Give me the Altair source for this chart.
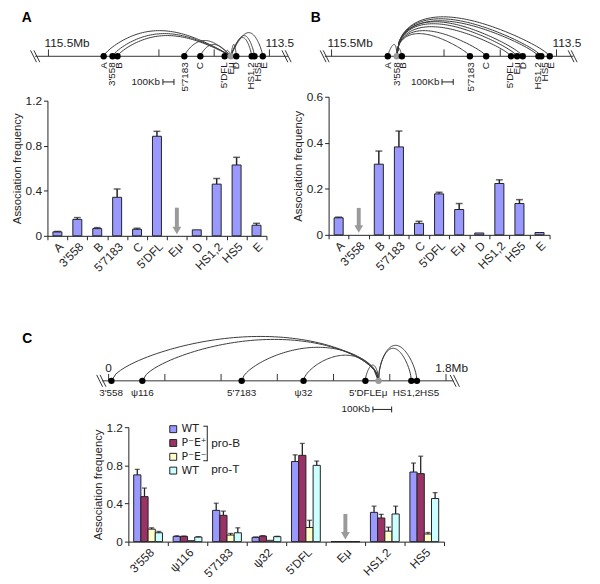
import altair as alt
import numpy as np
import pandas as pd

FONT = "Liberation Sans"
INK = "#222222"
LINE = "#333333"
GRAY = "#9a9a9a"

# ---------------- panels A and B: locus maps ----------------
ab_names = ["A", "3'558", "B", "5'7183", "C", "5'DFL", "Eμ", "D", "HS1,2", "HS5", "E"]
ab_mb = [115.0, 114.92, 114.875, 114.27, 114.125, 113.905, 113.85, 113.80, 113.66, 113.635, 113.56]
ab_label_mb = [115.0, 114.92, 114.862, 114.26, 114.125, 113.91, 113.85, 113.80, 113.665, 113.605, 113.55]
ab_tick_mb = [115.5, 114.5, 114.0, 113.5]
arcA_height = [26, 23, 21, 16, 12, 6, 0, 12, 19, 21, 24]   # contacts of Eμ
arcB_height = [12, 0, 9, 23, 26, 30, 33, 35, 36, 38, 40]   # contacts of 3'558

# ---------------- panels A and B: association frequencies ----------------
barA_val = [0.035, 0.146, 0.064, 0.342, 0.058, 0.884, None, 0.053, 0.459, 0.629, 0.094]
barA_err = [0.004, 0.016, 0.009, 0.074, 0.009, 0.044, None, 0.0, 0.05, 0.068, 0.017]
barB_val = [0.074, None, 0.307, 0.382, 0.050, 0.178, 0.110, 0.008, 0.223, 0.136, 0.010]
barB_err = [0.003, None, 0.057, 0.069, 0.009, 0.007, 0.026, 0.0, 0.016, 0.017, 0.0]

# ---------------- panel C: locus map ----------------
c_names = ["3'558", "ψ116", "5'7183", "ψ32", "5'DFL", "Eμ", "HS1,2", "HS5"]
c_mb = [0.015, 0.18, 0.71, 1.04, 1.37, 1.44, 1.615, 1.645]
c_label_text = ["3'558", "ψ116", "5'7183", "ψ32", "5'DFLEμ", "HS1,2HS5"]
c_label_mb = [0.013, 0.18, 0.71, 1.04, 1.385, 1.64]
c_tick_mb = [0, 0.3, 0.6, 0.9, 1.2, 1.5, 1.8]
arcC_height = [45, 42, 34, 26, 16, 0, 33, 36]

# ---------------- panel C: association frequencies ----------------
c_cats = ["3'558", "ψ116", "5'7183", "ψ32", "5'DFL", "Eμ", "HS1,2", "HS5"]
series = ["WT", "P⁻E⁺", "P⁻E⁻", "WT pro-T"]
series_colors = ["#9999ff", "#993366", "#ffffcc", "#ccffff"]
wt_val = [0.70, 0.055, 0.328, 0.045, 0.84, 0, 0.307, 0.73]
wt_err = [0.058, 0.006, 0.075, 0.004, 0.07, 0, 0.065, 0.094]
pep_val = [0.472, 0.055, 0.276, 0.058, 0.905, 0, 0.248, 0.713]
pep_err = [0.09, 0.004, 0.044, 0.005, 0.125, 0, 0.038, 0.183]
pem_val = [0.131, 0.01, 0.069, 0.014, 0.148, 0, 0.11, 0.08]
pem_err = [0.014, 0, 0.017, 0, 0.076, 0, 0.042, 0.016]
prot_val = [0.093, 0.048, 0.093, 0.052, 0.80, 0, 0.29, 0.452]
prot_err = [0.014, 0.004, 0.052, 0.004, 0.045, 0, 0.082, 0.062]

dummy = pd.DataFrame({"k": [0]})


def locus_map(names, mb, label_text, label_mb, view, arc_h, skew, power,
              xdom, xrng, yrng, tick_mb, tick_labels, line_ends, breaks, sb,
              vertical, label_y, label_size):
    k = (xrng[1] - xrng[0]) / (xdom[1] - xdom[0])
    xsc = alt.Scale(domain=xdom, range=xrng, nice=False, zero=False)
    ysc = alt.Scale(domain=[0, 45], range=yrng, nice=False, zero=False)

    def X(f):
        return alt.X(f, type="quantitative", scale=xsc, axis=None)

    def Y(f):
        return alt.Y(f, type="quantitative", scale=ysc, axis=None)

    layers = []
    base_df = pd.DataFrame({"x": [line_ends[0]], "x2": [line_ends[1]], "y": [0]})
    layers.append(alt.Chart(base_df).mark_rule(color=LINE, strokeWidth=1)
                  .encode(x=X("x"), x2="x2", y=Y("y")))
    tick_df = pd.DataFrame({"x": tick_mb, "y": 0, "y2": 7})
    layers.append(alt.Chart(tick_df).mark_rule(color=LINE, strokeWidth=1)
                  .encode(x=X("x"), y=Y("y"), y2="y2"))
    for tx, txt, dx in tick_labels:
        layers.append(alt.Chart(pd.DataFrame({"x": [tx], "y": [9], "t": [txt]}))
                      .mark_text(align="left", baseline="alphabetic", fontSize=12, dx=dx, color=INK)
                      .encode(x=X("x"), y=Y("y"), text="t:N"))
    br = pd.DataFrame({"x": [b - 3 / k for b in breaks], "x2": [b + 3 / k for b in breaks],
                       "y": 6, "y2": -6})
    layers.append(alt.Chart(br).mark_rule(color=LINE, strokeWidth=1)
                  .encode(x=X("x"), x2="x2", y=Y("y"), y2="y2"))
    rows = []
    for i, (p, h) in enumerate(zip(mb, arc_h)):
        if h <= 0 or i == view:
            continue
        s = np.linspace(0, 1, 60)
        u = s ** skew
        yy = h * np.clip(np.sin(np.pi * u), 0, None) ** power
        xx = mb[view] + (p - mb[view]) * s
        for j in range(len(s)):
            rows.append({"arc": i, "o": j, "x": xx[j], "y": yy[j]})
    layers.append(alt.Chart(pd.DataFrame(rows)).mark_line(color="#3a3a3a", strokeWidth=1)
                  .encode(x=X("x"), y=Y("y"), detail="arc:N", order="o:Q"))
    dots = pd.DataFrame({"x": mb, "y": 0, "view": [i == view for i in range(len(mb))]})
    layers.append(alt.Chart(dots).mark_circle(size=42, opacity=1)
                  .encode(x=X("x"), y=Y("y"),
                          color=alt.condition("datum.view", alt.value(GRAY), alt.value("black"))))
    lab = pd.DataFrame({"x": label_mb, "y": label_y, "t": label_text})
    if vertical:
        lm = alt.Chart(lab).mark_text(angle=270, align="right", baseline="middle",
                                      fontSize=label_size, color=INK)
    else:
        lm = alt.Chart(lab).mark_text(align="center", baseline="middle",
                                      fontSize=label_size, color=INK)
    layers.append(lm.encode(x=X("x"), y=Y("y"), text="t:N"))
    x0, x1, yb, xt = sb
    layers.append(alt.Chart(pd.DataFrame({"x": [x0], "x2": [x1], "y": [yb]}))
                  .mark_rule(color=INK, strokeWidth=1).encode(x=X("x"), x2="x2", y=Y("y")))
    layers.append(alt.Chart(pd.DataFrame({"x": [x0, x1], "y": yb - 3, "y2": yb + 3}))
                  .mark_rule(color=INK, strokeWidth=1).encode(x=X("x"), y=Y("y"), y2="y2"))
    layers.append(alt.Chart(pd.DataFrame({"x": [xt], "y": [yb], "t": ["100Kb"]}))
                  .mark_text(align="right", baseline="middle", fontSize=10, color=INK)
                  .encode(x=X("x"), y=Y("y"), text="t:N"))
    return alt.layer(*layers)


def y_axis(offset, values):
    return alt.Axis(orient="left", offset=offset, values=values, format="~g",
                    title="Association frequency", grid=False, tickSize=4, tickColor=INK,
                    domainColor=INK, labelColor=INK, titleColor=INK, labelFontSize=12,
                    titleFontSize=11.5, titleFontWeight="normal", labelPadding=2,
                    titlePadding=3, labelOverlap=False, labelFont=FONT, titleFont=FONT)


def x_axis(offset):
    return alt.Axis(orient="bottom", offset=offset, title=None, labelAngle=-45,
                    labelAlign="right", labelBaseline="top", tickBand="extent", tickSize=4,
                    tickColor=INK, domainColor=INK, labelColor=INK, labelFontSize=12,
                    labelPadding=1, labelOverlap=False, labelFont=FONT, grid=False)


def arrow_layers(df, X, Y):
    shaft = alt.Chart(df).mark_rule(color=GRAY, strokeWidth=4, y2Offset=-6).encode(
        x=X, y=Y("top"), y2="tip:Q")
    head = alt.Chart(df).mark_point(shape="triangle-down", filled=True, size=80,
                                    color=GRAY, opacity=1, yOffset=-4).encode(x=X, y=Y("tip"))
    return [shaft, head]


def bar_panel(cats, vals, errs, arrow, xrng, ydom, yrng, yvals, yoff, xoff):
    df = pd.DataFrame({"cat": cats, "val": vals, "err": errs})
    df["top"] = df["val"] + df["err"]
    xsc = alt.Scale(domain=cats, range=xrng, paddingInner=0, paddingOuter=0)
    ysc = alt.Scale(domain=ydom, range=yrng, nice=False)
    xa, ya = x_axis(xoff), y_axis(yoff, yvals)
    X = alt.X("cat:N", scale=xsc, axis=xa, sort=cats)

    def Y(f):
        return alt.Y(f, type="quantitative", scale=ysc, axis=ya)

    bars = alt.Chart(df).transform_filter("isValid(datum.val)").mark_bar(
        color="#9999ff", stroke=INK, strokeWidth=1, width=alt.RelativeBandSize(0.45)
    ).encode(x=X, y=Y("val"))
    rule = alt.Chart(df).transform_filter("datum.err > 0").mark_rule(
        color=INK, strokeWidth=1.5).encode(x=X, y=Y("val"), y2="top:Q")
    cap = alt.Chart(df).transform_filter("datum.err > 0").mark_tick(
        color=INK, thickness=1.5, size=7, orient="horizontal").encode(x=X, y=Y("top"))
    adf = pd.DataFrame({"cat": [arrow[0]], "top": [arrow[1]], "tip": [arrow[2]]})
    return alt.layer(bars, rule, cap, *arrow_layers(adf, X, Y))


mapA = locus_map(ab_names, ab_mb, ab_names, ab_label_mb, 6, arcA_height, 1.2, 0.75,
                 [113.5, 115.5], [265, 41], [45, 0], ab_tick_mb,
                 [(115.5, "115.5Mb", -4), (113.5, "113.5", -4)],
                 [115.62, 113.33], [115.635, 115.605, 113.36, 113.33],
                 (114.464, 114.364, -26, 114.49), True, -6, 10)
mapB = locus_map(ab_names, ab_mb, ab_names, ab_label_mb, 1, arcB_height, 0.58, 0.75,
                 [113.5, 115.5], [556, 328], [45, 0], ab_tick_mb,
                 [(115.5, "115.5Mb", -4), (113.5, "113.5", -4)],
                 [115.56, 113.35], [115.575, 115.548, 113.37, 113.343],
                 (114.518, 114.418, -26, 114.54), True, -6, 10)
mapC = locus_map(c_names, c_mb, c_label_text, c_label_mb, 5, arcC_height, 0.85, 0.6,
                 [0, 1.8], [102, 444], [374, 329], c_tick_mb,
                 [(0, "0", -3.5), (1.8, "1.8Mb", -11)],
                 [-0.035, 1.84], [-0.048, -0.030, 1.838, 1.856],
                 (1.41, 1.51, -29, 1.395), False, -12, 10)

barA = bar_panel(ab_names, barA_val, barA_err, ("Eμ", 0.25, 0.012), [40, 262],
                 [0, 1.2], [227, 90], [0, 0.4, 0.8, 1.2], -40, -349)
barB = bar_panel(ab_names, barB_val, barB_err, ("3'558", 0.117, 0.008), [325, 549],
                 [0, 0.6], [226, 86], [0, 0.2, 0.4, 0.6], -325, -350)

# panel C grouped bars
cvals = [wt_val, pep_val, pem_val, prot_val]
cerrs = [wt_err, pep_err, pem_err, prot_err]
crow = []
for sname, vv, ee in zip(series, cvals, cerrs):
    for c, v, e in zip(c_cats, vv, ee):
        crow.append({"cat": c, "series": sname, "val": v, "err": e, "top": v + e})
cdf = pd.DataFrame(crow)
cx = alt.X("cat:N", scale=alt.Scale(domain=c_cats, range=[122, 442], paddingInner=0, paddingOuter=0),
           axis=x_axis(-39), sort=c_cats)
cxo = alt.XOffset("series:N", scale=alt.Scale(domain=series, paddingInner=0, paddingOuter=0.74),
                  sort=series)
cysc = alt.Scale(domain=[0, 1.2], range=[537, 421], nice=False)
cya = y_axis(-122, [0, 0.4, 0.8, 1.2])


def CY(f):
    return alt.Y(f, type="quantitative", scale=cysc, axis=cya)


cbars = alt.Chart(cdf).mark_bar(stroke=INK, strokeWidth=1).encode(
    x=cx, xOffset=cxo, y=CY("val"),
    color=alt.Color("series:N", scale=alt.Scale(domain=series, range=series_colors),
                    legend=alt.Legend(orient="none", legendX=162, legendY=417.5, title=None,
                                      direction="vertical", symbolType="square", symbolSize=49,
                                      symbolStrokeColor=INK, symbolStrokeWidth=1,
                                      labelFontSize=11, labelFont="DejaVu Sans", labelColor=INK,
                                      rowPadding=2, padding=0, labelOffset=3, labelLimit=0,
                                      labelExpr="datum.label == 'WT pro-T' ? 'WT' : datum.label")))
crule = alt.Chart(cdf).transform_filter("datum.err > 0").mark_rule(color=INK, strokeWidth=1.3).encode(
    x=cx, xOffset=cxo, y=CY("val"), y2="top:Q")
ccap = alt.Chart(cdf).transform_filter("datum.err > 0").mark_tick(
    color=INK, thickness=1.3, size=5, orient="horizontal").encode(x=cx, xOffset=cxo, y=CY("top"))
carrow = pd.DataFrame({"cat": ["Eμ"], "top": [0.29], "tip": [0.02]})
cx_plain = alt.X("cat:N", scale=alt.Scale(domain=c_cats, range=[122, 442], paddingInner=0, paddingOuter=0),
                 axis=x_axis(-39), sort=c_cats)
barC = alt.layer(cbars, crule, ccap, *arrow_layers(carrow, cx_plain, CY))

# annotations
annots = []
for letter, lx, ly in [("A", 19, 6), ("B", 312, 6), ("C", 19.5, 332)]:
    annots.append(alt.Chart(dummy).mark_text(text=letter, fontSize=14, fontWeight="bold",
                                             align="center", baseline="middle", color="black")
                  .encode(x=alt.value(lx), y=alt.value(ly)))
for txt, ty in [("pro-B", 437), ("pro-T", 463)]:
    annots.append(alt.Chart(dummy).mark_text(text=txt, fontSize=12, align="left",
                                             baseline="middle", color=INK)
                  .encode(x=alt.value(206), y=alt.value(ty)))
annots.append(alt.Chart(dummy).mark_rule(color=INK, strokeWidth=1)
              .encode(x=alt.value(202), y=alt.value(420), y2=alt.value(455)))
for by in [420, 455]:
    annots.append(alt.Chart(dummy).mark_rule(color=INK, strokeWidth=1)
                  .encode(x=alt.value(198), x2=alt.value(202.5), y=alt.value(by)))

chart = alt.layer(mapA, barA, mapB, barB, mapC, barC, *annots).resolve_scale(
    x="independent", y="independent", color="independent"
).properties(
    width=592, height=576, padding=0, autosize=alt.AutoSizeParams(type="none")
).configure(font=FONT).configure_view(stroke=None)

chart.save("out.html", embed_options={"renderer": "svg", "actions": False})
